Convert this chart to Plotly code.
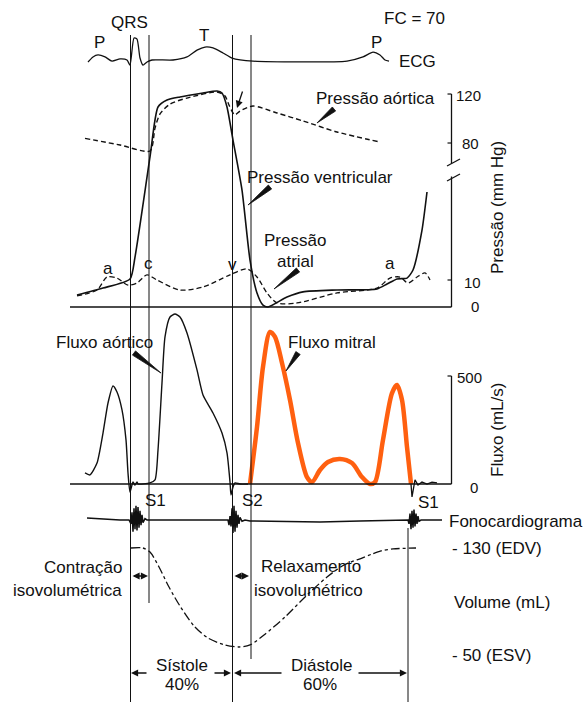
import numpy as np
import plotly.graph_objects as go

W, H = 585, 702

# ---------------- data (time in ms from QRS onset, FC = 70) ----------------
ecg_t = [-126, -111, -96, -75, -54, -30, -9, 0, 12, 21, 30, 39, 51, 66, 129, 171, 201, 225,
         249, 279, 306, 369, 651, 699, 729, 750, 765, 777]
ecg_mv = [-0.09, 0.14, 0.23, 0.14, -0.05, 0.05, 0.0, -0.23, 1.0, 0.95, 0.09, -0.23, -0.09, 0.0,
          0.0, 0.14, 0.45, 0.59, 0.55, 0.32, 0.09, -0.05, -0.05, 0.14, 0.36, 0.23, 0.0, -0.05]

vent_t = [-159, -81, 0, 15, 60, 84, 111, 150, 219, 261, 276, 291, 309, 336, 360, 381, 399, 414,
          471, 519, 621, 741, 771, 801, 831, 849, 876, 891]
vent_p = [4.4, 7.0, 10.4, 18.5, 68.6, 109.4, 115.1, 117.6, 120.8, 122.4, 120.8, 109.4, 82.4, 43.3,
          17.4, 5.2, 0.7, 0.0, 3.7, 5.6, 6.3, 6.7, 8.5, 10.4, 10.7, 13.7, 28.5, 42.6]

aorta_t = [-135, -30, 60, 75, 90, 120, 171, 261, 285, 297, 309, 315, 330, 369, 441, 519, 621, 750]
aorta_p = [83.8, 78.4, 73.5, 92.2, 103.7, 111.8, 116.7, 121.6, 118.4, 111.0, 104.5, 102.9, 106.1,
           110.2, 104.5, 98.0, 89.0, 80.8]

atrial_t = [-159, -99, -69, -39, -6, 21, 51, 81, 150, 219, 300, 351, 381, 411, 441, 501, 621, 741,
            780, 810, 834, 861, 885, 900]
atrial_p = [4.1, 6.3, 11.1, 10.7, 8.1, 8.9, 11.9, 10.0, 6.3, 7.4, 11.9, 14.1, 11.1, 5.2, 1.5, 1.5,
            5.2, 7.0, 10.7, 11.1, 8.9, 11.1, 12.6, 10.0]

aoflow_t = [-135, -120, -99, -81, -66, -51, -39, -24, -12, -6, 0, 9, 15, 21, 24, 60, 75, 84, 96,
            105, 120, 135, 150, 171, 201, 219, 249, 276, 291, 300, 303, 309, 315, 330, 354]
aoflow = [51, 42, 97, 236, 375, 454, 426, 343, 204, 51, -37, 9, -5, 9, 0, 5, 19, 157, 468, 681,
          773, 787, 773, 699, 528, 412, 329, 236, 144, 9, -51, -14, 5, 0, 0]

mitral_t = [360, 381, 399, 420, 435, 456, 480, 504, 531, 546, 570, 594, 630, 666, 696, 720, 735,
            759, 786, 801, 816, 831, 843]
mitral = [0, 264, 542, 704, 681, 560, 389, 190, 32, 9, 65, 102, 116, 97, 32, 0, 9, 204, 421, 458,
          389, 171, 0]

s1flow_t = [843, 846, 855, 864, 876, 891, 906, 921]
s1flow = [0, -60, 19, -5, 9, 0, 9, 5]

phono_t = [-129, -90, -30, -3, 3, 6, 9, 12, 15, 18, 21, 24, 27, 30, 33, 36, 39, 45, 51, 150, 294,
           297, 300, 303, 306, 309, 312, 315, 318, 321, 324, 327, 330, 336, 345, 360, 480, 570,
           690, 800, 834, 837, 840, 843, 846, 849, 852, 855, 858, 861, 864, 867, 873, 936]
phono = [0.15, 0.08, 0, 0, -0.3, 0.6, -0.9, 0.9, -0.7, 1.1, -0.8, 1.0, -0.6, 0.7, -0.4, 0.4, -0.2,
         0.1, 0, 0, 0, -0.4, 0.3, -0.5, 0.9, -1.0, 1.1, -0.9, 0.7, -0.6, 0.4, -0.3, 0.2, -0.1, 0,
         -0.08, -0.15, -0.15, -0.08, 0, 0, -0.3, 0.5, -0.7, 0.7, -0.6, 0.8, -0.5, 0.5, -0.3, 0.3,
         -0.1, 0, 0]

vol_t = [3, 39, 60, 87, 117, 150, 192, 234, 285, 327, 360, 402, 465, 528, 591, 642, 696, 726,
         753, 789, 858]
vol_ml = [130, 130, 127, 115.8, 100.8, 86.6, 71.7, 62.7, 57.5, 56.0, 57.5, 65.0, 78.4, 94.1, 108.3,
          117.3, 122.5, 125.5, 127.8, 129.3, 130]

event_t = [1.5, 57, 307.5, 363, 834]          # vertical reference lines
pressure_ticks = [0, 10, 80, 120]
flow_ticks = [0, 500]

# ---------------- helpers ----------------
FONT = "Liberation Sans, Arial, sans-serif"
MS_PER_PX, T0_PX = 3.0, 130


def T(px):
    return (px - T0_PX) * MS_PER_PX


def PX(x):
    return x / W


def PY(y):
    return 1 - y / H


def yrange(py_of_zero, px_per_unit, zero=0.0):
    return [zero + (py_of_zero - H) / px_per_unit, zero + py_of_zero / px_per_unit]


# broken pressure axis: mmHg -> display units
P_KNOTS = [0, 48, 64, 125]
D_KNOTS = [0, 129.6, 144.4, 219.1]


def pdisp(p):
    return np.interp(np.asarray(p, float), P_KNOTS, D_KNOTS)


fig = go.Figure()
BLK = "#111111"

fig.add_trace(go.Scatter(x=ecg_t, y=ecg_mv, yaxis="y", mode="lines",
                         line=dict(color=BLK, width=1.3, shape="spline", smoothing=0.6)))
fig.add_trace(go.Scatter(x=aorta_t, y=pdisp(aorta_p), yaxis="y2", mode="lines",
                         line=dict(color=BLK, width=1.4, dash="5px,3px", shape="spline", smoothing=0.7)))
fig.add_trace(go.Scatter(x=atrial_t, y=pdisp(atrial_p), yaxis="y2", mode="lines",
                         line=dict(color=BLK, width=1.3, dash="5px,3px", shape="spline", smoothing=0.8)))
fig.add_trace(go.Scatter(x=vent_t, y=pdisp(vent_p), yaxis="y2", mode="lines",
                         line=dict(color=BLK, width=1.6, shape="spline", smoothing=0.6)))
fig.add_trace(go.Scatter(x=aoflow_t, y=aoflow, yaxis="y3", mode="lines",
                         line=dict(color=BLK, width=1.4, shape="spline", smoothing=0.6)))
fig.add_trace(go.Scatter(x=s1flow_t, y=s1flow, yaxis="y3", mode="lines",
                         line=dict(color=BLK, width=1.3)))
fig.add_trace(go.Scatter(x=mitral_t, y=mitral, yaxis="y3", mode="lines",
                         line=dict(color="#FF6010", width=4.5, shape="spline", smoothing=0.8)))
fig.add_trace(go.Scatter(x=phono_t, y=phono, yaxis="y4", mode="lines",
                         line=dict(color=BLK, width=1.5)))
fig.add_trace(go.Scatter(x=vol_t, y=vol_ml, yaxis="y5", mode="lines",
                         line=dict(color=BLK, width=1.3, dash="dashdot", shape="spline", smoothing=0.8)))

hidden = dict(visible=False, domain=[0, 1], fixedrange=True)
fig.update_layout(
    width=W, height=H, margin=dict(l=0, r=0, t=0, b=0),
    paper_bgcolor="white", plot_bgcolor="white", showlegend=False,
    xaxis=dict(visible=False, range=[T(0), T(W)], domain=[0, 1]),
    yaxis=dict(hidden, range=yrange(60, 22)),
    yaxis2=dict(hidden, overlaying="y", range=yrange(307, 1)),
    yaxis3=dict(hidden, overlaying="y", range=yrange(484, 0.216)),
    yaxis4=dict(hidden, overlaying="y", range=yrange(520, 13)),
    yaxis5=dict(hidden, overlaying="y", range=yrange(548, 1.3375, zero=130)),
    font=dict(family=FONT, size=17, color=BLK),
)

shapes = []
line_spans = [(35, 702), (35, 603), (35, 702), (35, 659), (528, 702)]
for t, (y0, y1) in zip(event_t, line_spans):
    shapes.append(dict(type="line", xref="x", yref="paper", x0=t, x1=t, y0=PY(y0), y1=PY(y1),
                       line=dict(color=BLK, width=1)))

AX_T = T(451.5)
# pressure axis (broken)
shapes += [
    dict(type="line", xref="x", yref="y2", x0=T(70), x1=AX_T, y0=0, y1=0, line=dict(color=BLK, width=1.3)),
    dict(type="line", xref="x", yref="y2", x0=AX_T, x1=AX_T, y0=0, y1=pdisp(49), line=dict(color=BLK, width=1.3)),
    dict(type="line", xref="x", yref="y2", x0=AX_T, x1=AX_T, y0=pdisp(63), y1=pdisp(120), line=dict(color=BLK, width=1.3)),
    dict(type="line", xref="paper", yref="paper", x0=PX(447), y0=PY(166), x1=PX(460), y1=PY(159), line=dict(color=BLK, width=1.3)),
    dict(type="line", xref="paper", yref="paper", x0=PX(447), y0=PY(181), x1=PX(460), y1=PY(174), line=dict(color=BLK, width=1.3)),
]
for p in pressure_ticks[1:]:
    shapes.append(dict(type="line", xref="x", yref="y2", x0=AX_T - 12, x1=AX_T, y0=pdisp(p), y1=pdisp(p),
                       line=dict(color=BLK, width=1.2)))
# flow axis
shapes += [
    dict(type="line", xref="x", yref="y3", x0=T(70), x1=AX_T, y0=0, y1=0, line=dict(color=BLK, width=1.3)),
    dict(type="line", xref="x", yref="y3", x0=AX_T, x1=AX_T, y0=0, y1=flow_ticks[1], line=dict(color=BLK, width=1.3)),
    dict(type="line", xref="x", yref="y3", x0=AX_T - 12, x1=AX_T, y0=flow_ticks[1], y1=flow_ticks[1],
         line=dict(color=BLK, width=1.2)),
]


def wedge(x0, y0, x1, y1, w=2.6):
    dx, dy = x1 - x0, y1 - y0
    L = (dx * dx + dy * dy) ** 0.5
    nx, ny = -dy / L * w, dx / L * w
    pts = [(x0 + nx, y0 + ny), (x1, y1), (x0 - nx, y0 - ny)]
    path = "M " + " L ".join(f"{PX(a):.5f},{PY(b):.5f}" for a, b in pts) + " Z"
    return dict(type="path", xref="paper", yref="paper", path=path, fillcolor=BLK,
                line=dict(color=BLK, width=0.8))


shapes += [
    wedge(334, 109, 317, 123),
    wedge(270, 187, 248, 205),
    wedge(298, 270, 274, 289),
    wedge(134, 353, 161, 373),
    wedge(298, 353, 286, 371),
]
fig.update_layout(shapes=shapes)

ann = []


def text(s, x, y, anchor="center", size=17, **kw):
    ann.append(dict(text=s, x=PX(x), y=PY(y), xref="paper", yref="paper", showarrow=False,
                    xanchor=anchor, yanchor="middle", font=dict(size=size, family=FONT, color=BLK), **kw))


def arrow(hx, hy, tx, ty, both=False):
    ann.append(dict(text="", x=PX(hx), y=PY(hy), xref="paper", yref="paper", showarrow=True,
                    ax=tx - hx, ay=ty - hy, arrowhead=2, arrowsize=1.1, arrowwidth=1.3,
                    arrowcolor=BLK, arrowside="end+start" if both else "end", standoff=0,
                    startstandoff=0))


text("P", 99, 42)
text("QRS", 129, 23)
text("T", 204, 35)
text("P", 376, 42)
text("ECG", 397, 61, "left")
text("FC = 70", 382, 18, "left")
text("Pressão aórtica", 375, 98)
text("Pressão ventricular", 320, 177)
text("Pressão", 295, 240)
text("atrial", 295, 262)
text("a", 108, 268)
text("c", 148, 263)
text("v", 233, 265)
text("a", 390, 263)
text("120", 483, 95, "right", 15)
text("80", 481, 143, "right", 15)
text("10", 483, 282, "right", 15)
text("0", 481, 307, "right", 15)
text("500", 484, 377, "right", 15)
text("0", 480, 487, "right", 15)
text("Pressão (mm Hg)", 497, 208, textangle=-90)
text("Fluxo (mL/s)", 497, 430, textangle=-90)
text("Fluxo aórtico", 104, 342)
text("Fluxo mitral", 332, 342)
text("S1", 155, 500)
text("S2", 252, 500)
text("S1", 429, 502)
text("Fonocardiograma", 447, 521, "left")
text("Contração", 124, 567, "right")
text("isovolumétrica", 124, 590, "right")
text("Relaxamento", 259, 566, "left")
text("isovolumétrico", 252, 590, "left")
text("- 130 (EDV)", 450, 548, "left")
text("Volume (mL)", 452, 602, "left")
text("- 50 (ESV)", 450, 655, "left")
text("Sístole", 182, 665)
text("40%", 182, 684)
text("Diástole", 321, 665)
text("60%", 320, 684)

arrow(148, 576, 131, 576, both=True)
arrow(249, 576, 233, 576, both=True)
arrow(131, 673, 148, 673)
arrow(231, 673, 213, 673)
arrow(234, 673, 283, 673)
arrow(407, 673, 357, 673)
arrow(237, 108, 243, 90)

fig.update_layout(annotations=ann)
fig.write_html("out.html", config={"displayModeBar": False},
               post_script="document.body.style.margin='0px';document.body.style.overflow='hidden';")
